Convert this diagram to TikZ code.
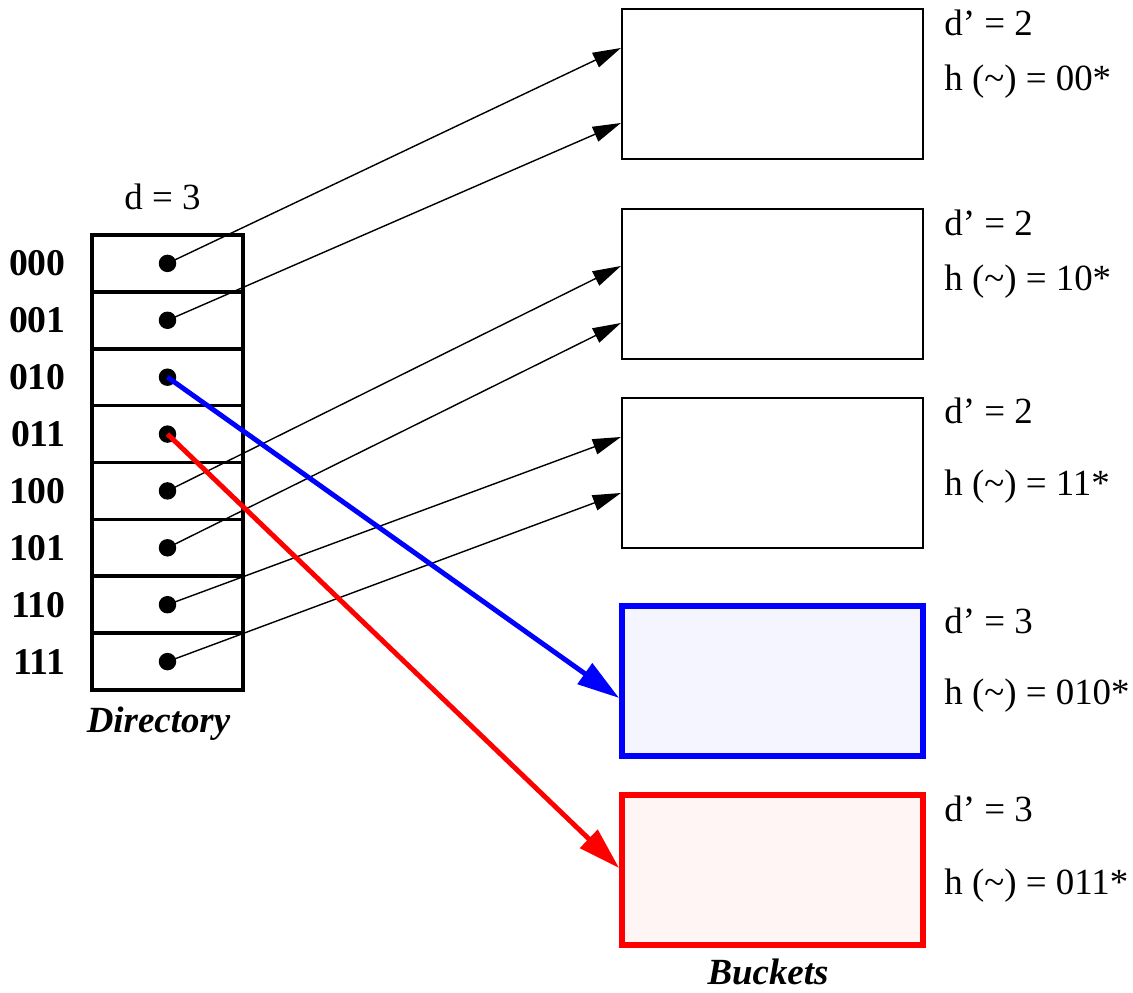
\documentclass[tikz,border=0pt]{standalone}
\usepackage{fontspec}
\setmainfont{Liberation Serif}
\usepackage{tikz}
\usetikzlibrary{positioning,arrows.meta,calc}

\begin{document}
\begin{tikzpicture}[
  x=0.02cm, y=-0.02cm,
  font=\fontsize{21}{25}\selectfont,
  cell/.style={
    draw,
    line width=2pt,
    minimum width=3.02cm,
    minimum height=1.1375cm,
    inner sep=0pt,
    outer sep=0pt
  },
  dot/.style={circle, fill, inner sep=0pt, minimum size=0.35cm},
  binlabel/.style={inner sep=0pt, font=\fontsize{21.5}{25}\selectfont\bfseries},
  bucket/.style={
    draw,
    line width=1.3pt,
    minimum width=6.02cm,
    minimum height=3cm
  },
  bucketblue/.style={bucket, draw=blue, line width=3.3pt, fill=blue!4},
  bucketred/.style={bucket, draw=red, line width=3.3pt, fill=red!4},
  info/.style={anchor=base west, inner sep=0pt},
  caption/.style={anchor=base, inner sep=0pt, font=\fontsize{21}{25}\selectfont\bfseries\itshape},
  pointer/.style={-{Triangle[length=16pt,width=9pt]}, line width=0.8pt},
  bigpointer/.style={-{Triangle[length=24pt,width=14pt]}, line width=2.8pt}
]
  \useasboundingbox (0,0) rectangle (1133,993);

  % directory
  \node[cell] (c000) at (167.5,263.4) {};
  \node[cell] (c001) at (167.5,320.3) {};
  \node[cell] (c010) at (167.5,377.2) {};
  \node[cell] (c011) at (167.5,434.1) {};
  \node[cell] (c100) at (167.5,490.9) {};
  \node[cell] (c101) at (167.5,547.8) {};
  \node[cell] (c110) at (167.5,604.7) {};
  \node[cell] (c111) at (167.5,661.6) {};

  \node[dot] (p000) at (c000) {};
  \node[dot] (p001) at (c001) {};
  \node[dot] (p010) at (c010) {};
  \node[dot] (p011) at (c011) {};
  \node[dot] (p100) at (c100) {};
  \node[dot] (p101) at (c101) {};
  \node[dot] (p110) at (c110) {};
  \node[dot] (p111) at (c111) {};

  \node[binlabel, left=0.52cm of c000] (l000) {000};
  \node[binlabel, left=0.52cm of c001] (l001) {001};
  \node[binlabel, left=0.52cm of c010] (l010) {010};
  \node[binlabel, left=0.52cm of c011] (l011) {011};
  \node[binlabel, left=0.52cm of c100] (l100) {100};
  \node[binlabel, left=0.52cm of c101] (l101) {101};
  \node[binlabel, left=0.52cm of c110] (l110) {110};
  \node[binlabel, left=0.52cm of c111] (l111) {111};

  \node[anchor=base, inner sep=0pt] (gdepth) at ($(c000.north)+(-5,-25)$) {d = 3};
  \node[caption] (dirname) at ($(c111.south)+(-9,42)$) {Directory};

  % buckets
  \node[bucket] (b1) at (772.5,84) {};
  \node[bucket] (b2) at (772.5,284) {};
  \node[bucket] (b3) at (772.5,473) {};
  \node[bucketblue] (b4) at (772.5,681) {};
  \node[bucketred] (b5) at (772.5,870) {};

  \node[info] (d1) at (944,36) {d’ = 2};
  \node[info] (h1) at (944,91) {h (\textasciitilde) = 00*};
  \node[info] (d2) at (944,236) {d’ = 2};
  \node[info] (h2) at (944,291) {h (\textasciitilde) = 10*};
  \node[info] (d3) at (944,423) {d’ = 2};
  \node[info] (h3) at (944,495) {h (\textasciitilde) = 11*};
  \node[info] (d4) at (944,633) {d’ = 3};
  \node[info] (h4) at (944,704) {h (\textasciitilde) = 010*};
  \node[info] (d5) at (944,821) {d’ = 3};
  \node[info] (h5) at (944,894) {h (\textasciitilde) = 011*};

  \node[caption] (bktname) at ($(b5.south)+(-4.5,37)$) {Buckets};

  % pointers
  \draw[pointer] (p000.center) -- ($(b1.west)+(0,-36)$);
  \draw[pointer] (p001.center) -- ($(b1.west)+(0,39)$);
  \draw[pointer] (p100.center) -- ($(b2.west)+(0,-18)$);
  \draw[pointer] (p101.center) -- ($(b2.west)+(0,39)$);
  \draw[pointer] (p110.center) -- ($(b3.west)+(0,-36)$);
  \draw[pointer] (p111.center) -- ($(b3.west)+(0,20)$);
  \draw[bigpointer, blue] (p010.center) -- ($(b4.west)+(0,17)$);
  \draw[bigpointer, red] (p011.center) -- ($(b5.west)+(0,-2)$);
\end{tikzpicture}
\end{document}
